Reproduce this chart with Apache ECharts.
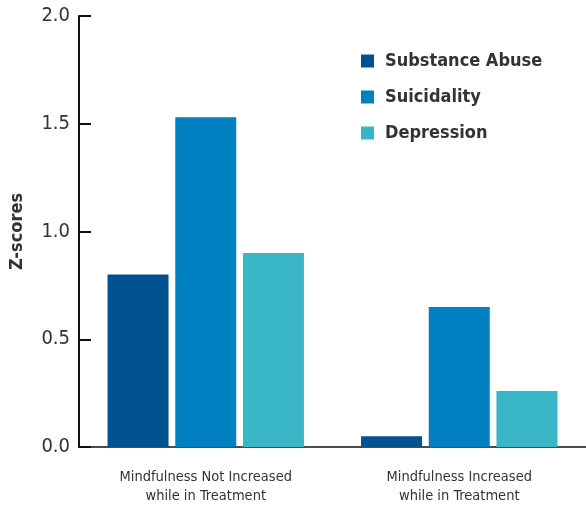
<!DOCTYPE html>
<html><head><meta charset="utf-8">
<script src="https://cdn.jsdelivr.net/npm/echarts@6/dist/echarts.min.js"></script>
<style>html,body{margin:0;padding:0;background:#fff}#c{width:586px;height:509px}</style>
</head><body><div id="c"></div>
<script>
var categories = ['Mindfulness Not Increased\nwhile in Treatment', 'Mindfulness Increased\nwhile in Treatment'];
var seriesNames = ['Substance Abuse', 'Suicidality', 'Depression'];
var substanceAbuse = [0.80, 0.05];
var suicidality = [1.53, 0.65];
var depression = [0.90, 0.26];
var colors = ['#02528f', '#0281c2', '#38b6c6'];
var FONT = '"Liberation Sans Narrow", "DejaVu Sans Condensed", "Roboto Condensed", sans-serif';

var chart = echarts.init(document.getElementById('c'));
var values = [substanceAbuse, suicidality, depression];
chart.setOption({
  animation: false,
  textStyle: {fontFamily: FONT},
  grid: {left: 79, right: 0, top: 16, bottom: 62},
  legend: {
    orient: 'vertical', left: 356, top: 47,
    itemWidth: 13, itemHeight: 13, itemGap: 18, icon: 'rect',
    data: seriesNames,
    textStyle: {fontFamily: FONT, fontSize: 18, fontWeight: 'bold', color: '#333', padding: [0, 0, 0, 6]}
  },
  xAxis: {
    type: 'category', data: categories,
    axisLine: {lineStyle: {color: '#111', width: 1.5}},
    axisTick: {inside: true, length: 12, lineStyle: {color: '#111', width: 1.5}},
    axisLabel: {fontFamily: FONT, fontSize: 14.5, color: '#333', margin: 21, lineHeight: 19}
  },
  yAxis: {
    type: 'value', min: 0, max: 2, interval: 0.5,
    name: 'Z-scores', nameLocation: 'middle', nameGap: 53,
    nameTextStyle: {fontFamily: FONT, fontSize: 18, fontWeight: 'bold', color: '#333'},
    splitLine: {show: false},
    axisLine: {show: true, lineStyle: {color: '#111', width: 2}},
    axisTick: {show: true, inside: true, length: 12, lineStyle: {color: '#111', width: 2}},
    axisLabel: {fontFamily: FONT, fontSize: 20, color: '#333', margin: 9,
      formatter: function (v) { return v.toFixed(1); }}
  },
  series: seriesNames.map(function (n, i) {
    return {
      name: n, type: 'bar', data: values[i], barWidth: 61, barGap: '11%',
      itemStyle: {color: colors[i]}
    };
  })
});
</script></body></html>
